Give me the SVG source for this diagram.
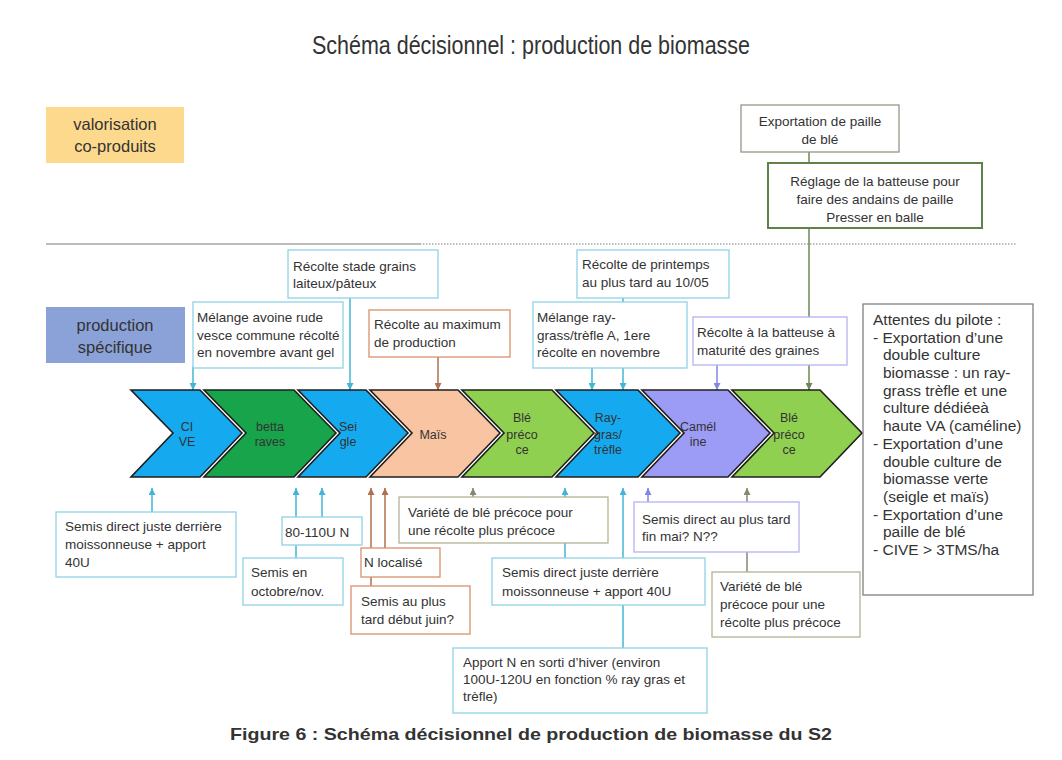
<svg xmlns="http://www.w3.org/2000/svg" width="1062" height="760" viewBox="0 0 1062 760">
  <style>
    text { font-family: "Liberation Sans", Arial, sans-serif; fill: #333; }
    .note { font-size: 13.5px; }
    .chev-t { font-size: 12.5px; text-anchor: middle; }
    .lbl { font-size: 16.5px; text-anchor: middle; }
    .box { fill: #fff; stroke-width: 1.3; }
    .b-blue { stroke: #8fd3e6; }
    .b-brown { stroke: #d9916c; }
    .b-olive { stroke: #b3b394; }
    .b-purple { stroke: #b2b2f2; }
    .b-grey { stroke: #8e9a88; }
    .b-green { stroke: #5f8247; stroke-width: 2; }
    .chev { stroke: #1e1e1e; stroke-width: 1.6; stroke-linejoin: miter; }
    .c { fill: none; stroke-width: 1.5; }
    .c-blue { stroke: #45b4d6; }
    .c-brown { stroke: #b0704e; }
    .c-olive { stroke: #838a6c; }
    .c-purple { stroke: #8585e6; }
    .c-green { stroke: #6a8a52; }
  </style>
  <defs>
    <marker id="ah-blue" viewBox="0 0 8 8" refX="8" refY="4" markerWidth="7" markerHeight="7" markerUnits="userSpaceOnUse" orient="auto"><path d="M0,0 L8,4 L0,8 z" fill="#45b4d6"/></marker>
    <marker id="ah-brown" viewBox="0 0 8 8" refX="8" refY="4" markerWidth="7" markerHeight="7" markerUnits="userSpaceOnUse" orient="auto"><path d="M0,0 L8,4 L0,8 z" fill="#b0704e"/></marker>
    <marker id="ah-olive" viewBox="0 0 8 8" refX="8" refY="4" markerWidth="7" markerHeight="7" markerUnits="userSpaceOnUse" orient="auto"><path d="M0,0 L8,4 L0,8 z" fill="#838a6c"/></marker>
    <marker id="ah-purple" viewBox="0 0 8 8" refX="8" refY="4" markerWidth="7" markerHeight="7" markerUnits="userSpaceOnUse" orient="auto"><path d="M0,0 L8,4 L0,8 z" fill="#8585e6"/></marker>
    <marker id="ah-green" viewBox="0 0 8 8" refX="8" refY="4" markerWidth="7" markerHeight="7" markerUnits="userSpaceOnUse" orient="auto"><path d="M0,0 L8,4 L0,8 z" fill="#6a8a52"/></marker>
  </defs>

  <rect width="1062" height="760" fill="#fff"/>

  <!-- title -->
  <text x="531" y="54" font-size="26" text-anchor="middle" fill="#222" textLength="438" lengthAdjust="spacingAndGlyphs">Schéma décisionnel : production de biomasse</text>

  <!-- section separator -->
  <line x1="46" y1="244" x2="420" y2="244" stroke="#a6a6a6" stroke-width="1.5"/>
  <line x1="420" y1="244" x2="1017" y2="244" stroke="#a6a6a6" stroke-width="1.3" stroke-dasharray="1.5 1.5"/>

  <!-- row labels -->
  <g id="label-valorisation">
    <rect x="46" y="107" width="138" height="56" fill="#fdd98d"/>
    <text class="lbl" x="115" y="130">valorisation</text>
    <text class="lbl" x="115" y="152">co-produits</text>
  </g>
  <g id="label-production">
    <rect x="46" y="307" width="139" height="56" fill="#8aa2d8"/>
    <text class="lbl" x="115" y="331" fill="#1d2b4c">production</text>
    <text class="lbl" x="115" y="353" fill="#1d2b4c">spécifique</text>
  </g>

  <!-- connectors (drawn beneath the boxes) -->
  <g id="connectors">
    <!-- above the rotation -->
    <line class="c c-blue" x1="193" y1="366" x2="193" y2="390" marker-end="url(#ah-blue)"/>
    <line class="c c-blue" x1="350" y1="298" x2="350" y2="390" marker-end="url(#ah-blue)"/>
    <line class="c c-brown" x1="438" y1="357" x2="438" y2="390" marker-end="url(#ah-brown)"/>
    <line class="c c-blue" x1="623" y1="298" x2="623" y2="302"/>
    <line class="c c-blue" x1="592" y1="368" x2="592" y2="390" marker-end="url(#ah-blue)"/>
    <line class="c c-blue" x1="623" y1="368" x2="623" y2="390" marker-end="url(#ah-blue)"/>
    <line class="c c-purple" x1="717" y1="365" x2="717" y2="390" marker-end="url(#ah-purple)"/>
    <line class="c c-green" x1="809" y1="152" x2="809" y2="163"/>
    <line class="c c-green" x1="809" y1="228" x2="809" y2="390" marker-end="url(#ah-green)"/>
    <!-- below the rotation -->
    <line class="c c-blue" x1="152" y1="512" x2="152" y2="488" marker-end="url(#ah-blue)"/>
    <line class="c c-blue" x1="296" y1="558" x2="296" y2="488" marker-end="url(#ah-blue)"/>
    <line class="c c-blue" x1="322" y1="517" x2="322" y2="488" marker-end="url(#ah-blue)"/>
    <line class="c c-brown" x1="371" y1="586" x2="371" y2="488" marker-end="url(#ah-brown)"/>
    <line class="c c-brown" x1="385" y1="548" x2="385" y2="488" marker-end="url(#ah-brown)"/>
    <line class="c c-olive" x1="473" y1="497" x2="473" y2="488" marker-end="url(#ah-olive)"/>
    <line class="c c-blue" x1="565" y1="558" x2="565" y2="488" marker-end="url(#ah-blue)"/>
    <line class="c c-blue" x1="623" y1="648" x2="623" y2="488" marker-end="url(#ah-blue)"/>
    <line class="c c-purple" x1="648" y1="502" x2="648" y2="488" marker-end="url(#ah-purple)"/>
    <line class="c c-olive" x1="747" y1="572" x2="747" y2="488" marker-end="url(#ah-olive)"/>
  </g>

  <!-- crop rotation chevrons -->
  <g id="crop-cive">
    <polygon class="chev" fill="#15aaef" points="131,390 200,390 242,433 200,477 131,477 173,433"/>
    <text class="chev-t" x="187" y="431" fill="#1f4f96">CI</text>
    <text class="chev-t" x="187" y="446" fill="#1f4f96">VE</text>
  </g>
  <g id="crop-betteraves">
    <polygon class="chev" fill="#17a44a" points="204,390 294,390 336,433 294,477 204,477 246,433"/>
    <text class="chev-t" x="270" y="431" fill="#a8d86a">betta</text>
    <text class="chev-t" x="270" y="446" fill="#a8d86a">raves</text>
  </g>
  <g id="crop-seigle">
    <polygon class="chev" fill="#15aaef" points="298,390 366,390 408,433 366,477 298,477 340,433"/>
    <text class="chev-t" x="348" y="431" fill="#1f4f96">Sei</text>
    <text class="chev-t" x="348" y="446" fill="#1f4f96">gle</text>
  </g>
  <g id="crop-mais">
    <polygon class="chev" fill="#f8c4a2" points="370,390 458,390 500,433 458,477 370,477 412,433"/>
    <text class="chev-t" x="433" y="439" fill="#8a5a3a">Maïs</text>
  </g>
  <g id="crop-ble-1">
    <polygon class="chev" fill="#90d050" points="462,390 552,390 594,433 552,477 462,477 504,433"/>
    <text class="chev-t" x="522" y="422" fill="#3b6a1c">Blé</text>
    <text class="chev-t" x="522" y="439" fill="#3b6a1c">préco</text>
    <text class="chev-t" x="522" y="454" fill="#3b6a1c">ce</text>
  </g>
  <g id="crop-raygras">
    <polygon class="chev" fill="#15aaef" points="556,390 638,390 680,433 638,477 556,477 598,433"/>
    <text class="chev-t" x="608" y="422" fill="#b8e2c8">Ray-</text>
    <text class="chev-t" x="608" y="439" fill="#b8e2c8">gras/</text>
    <text class="chev-t" x="608" y="454" fill="#b8e2c8">trèfle</text>
  </g>
  <g id="crop-cameline">
    <polygon class="chev" fill="#9c9cf6" points="642,390 728,390 770,433 728,477 642,477 684,433"/>
    <text class="chev-t" x="698" y="431" fill="#3d4bb8">Camél</text>
    <text class="chev-t" x="698" y="446" fill="#3d4bb8">ine</text>
  </g>
  <g id="crop-ble-2">
    <polygon class="chev" fill="#90d050" points="732,390 820,390 862,433 820,477 732,477 774,433"/>
    <text class="chev-t" x="789" y="422" fill="#3b6a1c">Blé</text>
    <text class="chev-t" x="789" y="439" fill="#3b6a1c">préco</text>
    <text class="chev-t" x="789" y="454" fill="#3b6a1c">ce</text>
  </g>

  <!-- co-product boxes -->
  <g id="exportation-paille">
    <rect class="box b-grey" x="741" y="105" width="158" height="47"/>
    <text class="note" x="820" y="126" text-anchor="middle">Exportation de paille</text>
    <text class="note" x="820" y="144" text-anchor="middle">de blé</text>
  </g>
  <g id="reglage-batteuse">
    <rect class="box b-green" x="768" y="163" width="214" height="65"/>
    <text class="note" x="875" y="186" text-anchor="middle">Réglage de la batteuse pour</text>
    <text class="note" x="875" y="204" text-anchor="middle">faire des andains de paille</text>
    <text class="note" x="875" y="222" text-anchor="middle">Presser en balle</text>
  </g>

  <!-- harvest notes above the rotation -->
  <g id="recolte-seigle">
    <rect class="box b-blue" x="288" y="250" width="150" height="48"/>
    <text class="note" x="293" y="271">Récolte stade grains</text>
    <text class="note" x="293" y="288">laiteux/pâteux</text>
  </g>
  <g id="melange-avoine">
    <rect class="box b-blue" x="193" y="302" width="150" height="66"/>
    <text class="note" x="197" y="322">Mélange avoine rude</text>
    <text class="note" x="197" y="340">vesce commune récolté</text>
    <text class="note" x="197" y="357">en novembre avant gel</text>
  </g>
  <g id="recolte-mais">
    <rect class="box b-brown" x="369" y="310" width="141" height="47"/>
    <text class="note" x="374" y="329">Récolte au maximum</text>
    <text class="note" x="374" y="347">de production</text>
  </g>
  <g id="recolte-printemps">
    <rect class="box b-blue" x="577" y="250" width="152" height="48"/>
    <text class="note" x="582" y="269">Récolte de printemps</text>
    <text class="note" x="582" y="287">au plus tard au 10/05</text>
  </g>
  <g id="melange-raygrass">
    <rect class="box b-blue" x="533" y="302" width="154" height="66"/>
    <text class="note" x="537" y="322">Mélange ray-</text>
    <text class="note" x="537" y="340">grass/trèfle A, 1ere</text>
    <text class="note" x="537" y="357">récolte en novembre</text>
  </g>
  <g id="recolte-cameline">
    <rect class="box b-purple" x="693" y="317" width="154" height="48"/>
    <text class="note" x="697" y="337">Récolte à la batteuse à</text>
    <text class="note" x="697" y="355">maturité des graines</text>
  </g>

  <!-- sowing / fertilisation notes below the rotation -->
  <g id="semis-cive">
    <rect class="box b-blue" x="56" y="512" width="180" height="65"/>
    <text class="note" x="65" y="531">Semis direct juste derrière</text>
    <text class="note" x="65" y="549">moissonneuse + apport</text>
    <text class="note" x="65" y="567">40U</text>
  </g>
  <g id="azote-seigle">
    <rect class="box b-blue" x="282" y="517" width="80" height="28"/>
    <text class="note" x="285" y="537">80-110U N</text>
  </g>
  <g id="semis-seigle">
    <rect class="box b-blue" x="243" y="558" width="100" height="47"/>
    <text class="note" x="251" y="577">Semis en</text>
    <text class="note" x="251" y="596">octobre/nov.</text>
  </g>
  <g id="azote-mais">
    <rect class="box b-brown" x="361" y="548" width="79" height="29"/>
    <text class="note" x="364" y="567">N localisé</text>
  </g>
  <g id="semis-mais">
    <rect class="box b-brown" x="351" y="586" width="119" height="48"/>
    <text class="note" x="361" y="606">Semis au plus</text>
    <text class="note" x="361" y="624">tard début juin?</text>
  </g>
  <g id="variete-ble-1">
    <rect class="box b-olive" x="399" y="497" width="209" height="46"/>
    <text class="note" x="408" y="517">Variété de blé précoce pour</text>
    <text class="note" x="408" y="535">une récolte plus précoce</text>
  </g>
  <g id="semis-raygrass">
    <rect class="box b-blue" x="492" y="558" width="213" height="47"/>
    <text class="note" x="502" y="577">Semis direct juste derrière</text>
    <text class="note" x="502" y="596">moissonneuse + apport 40U</text>
  </g>
  <g id="apport-azote">
    <rect class="box b-blue" x="453" y="648" width="254" height="65"/>
    <text class="note" x="463" y="667">Apport N en sorti d’hiver  (environ</text>
    <text class="note" x="463" y="684">100U-120U en fonction % ray gras et</text>
    <text class="note" x="463" y="701">trèfle)</text>
  </g>
  <g id="semis-cameline">
    <rect class="box b-purple" x="634" y="502" width="165" height="50"/>
    <text class="note" x="642" y="524">Semis direct au plus tard</text>
    <text class="note" x="642" y="541">fin mai?  N??</text>
  </g>
  <g id="variete-ble-2">
    <rect class="box b-olive" x="712" y="572" width="148" height="65"/>
    <text class="note" x="720" y="591">Variété de blé</text>
    <text class="note" x="720" y="609">précoce pour une</text>
    <text class="note" x="720" y="627">récolte plus précoce</text>
  </g>

  <!-- expectations -->
  <g id="attentes-pilote" font-size="15.5">
    <rect x="863" y="304" width="170" height="291" fill="#fff" stroke="#808080" stroke-width="1.3"/>
    <text x="873" y="325">Attentes du pilote :</text>
    <text x="873" y="343">- Exportation d’une</text>
    <text x="883" y="360">double culture</text>
    <text x="883" y="378">biomasse : un ray-</text>
    <text x="883" y="396">grass trèfle et une</text>
    <text x="883" y="413">culture dédiéeà</text>
    <text x="883" y="431">haute VA (caméline)</text>
    <text x="873" y="449">- Exportation d’une</text>
    <text x="883" y="467">double culture de</text>
    <text x="883" y="484">biomasse verte</text>
    <text x="883" y="502">(seigle et maïs)</text>
    <text x="873" y="520">- Exportation d’une</text>
    <text x="883" y="537">paille de blé</text>
    <text x="873" y="555">- CIVE &gt; 3TMS/ha</text>
  </g>

  <!-- caption -->
  <text x="531" y="740" font-size="16.5" font-weight="bold" text-anchor="middle" fill="#111" textLength="602" lengthAdjust="spacingAndGlyphs">Figure 6 : Schéma décisionnel de production de biomasse du S2</text>
</svg>
